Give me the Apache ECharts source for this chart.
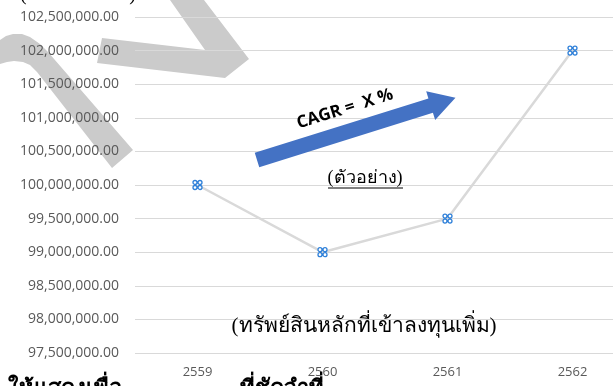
<!DOCTYPE html>
<html>
<head>
<meta charset="utf-8">
<script src="https://cdn.jsdelivr.net/npm/echarts@6/dist/echarts.min.js"></script>
<style>
  html, body { margin: 0; padding: 0; background: #fff; }
  #main { width: 613px; height: 386px; }
</style>
</head>
<body>
<div id="main"></div>
<script>
// Data
const years = ["2559", "2560", "2561", "2562"];
const assetValues = [100000000, 99000000, 99500000, 102000000];
const yMin = 97500000;
const yMax = 102500000;
const yStep = 500000;

// Four little circles, like the Excel marker
const markerPath =
  "path://M0.5,2.5a2,2 0 1,0 4,0a2,2 0 1,0 -4,0Z" +
  "M5.5,2.5a2,2 0 1,0 4,0a2,2 0 1,0 -4,0Z" +
  "M0.5,7.5a2,2 0 1,0 4,0a2,2 0 1,0 -4,0Z" +
  "M5.5,7.5a2,2 0 1,0 4,0a2,2 0 1,0 -4,0Z";

const gray = "#cbcbcb";
const arrowAngle = (17.4 * Math.PI) / 180;

const chart = echarts.init(document.getElementById("main"));

chart.setOption({
  animation: false,
  // the plot runs off the right edge of the picture
  grid: { left: 135, top: 17, width: 500, height: 336, outerBoundsMode: "none" },
  xAxis: {
    type: "category",
    data: years,
    axisLine: { show: false },
    axisTick: { show: false },
    axisLabel: { color: "#595959", fontSize: 13, fontFamily: "Open Sans", margin: 13 },
  },
  yAxis: {
    type: "value",
    min: yMin,
    max: yMax,
    interval: yStep,
    axisLine: { show: false },
    axisTick: { show: false },
    splitLine: { lineStyle: { color: "#d9d9d9", width: 1 } },
    axisLabel: {
      color: "#595959",
      fontSize: 14,
      fontFamily: "Open Sans",
      margin: 16,
      formatter: (v) =>
        v.toLocaleString("en-US", { minimumFractionDigits: 2, maximumFractionDigits: 2 }),
    },
  },
  series: [
    {
      type: "line",
      data: assetValues,
      symbol: markerPath,
      symbolSize: 9,
      z: 5,
      lineStyle: { color: "#d9d9d9", width: 2.5 },
      itemStyle: { color: "#ffffff", borderColor: "#2f80d9", borderWidth: 1.3 },
    },
  ],
  graphic: [
    // watermark strokes
    {
      type: "polygon",
      z: -10,
      shape: {
        points: [[170, 0], [205, 50], [102, 38], [97, 63], [225, 78], [249, 59], [204, 0]],
      },
      style: { fill: gray },
    },
    {
      type: "polygon",
      z: -10,
      shape: {
        points: [
          [0, 40], [6, 36], [13, 34], [22, 34], [30, 37], [40, 44], [48, 52],
          [133, 150], [112, 168], [37, 72], [30, 65], [23, 62], [14, 61], [7, 62], [0, 64],
        ],
      },
      style: { fill: gray },
    },
    // blue CAGR arrow
    {
      type: "polygon",
      z: 20,
      x: 257,
      y: 160,
      rotation: arrowAngle,
      shape: {
        points: [[0, -7.5], [182, -7.5], [182, -15], [208, 0], [182, 15], [182, 7.5], [0, 7.5]],
      },
      style: { fill: "#4472c4" },
    },
    {
      type: "text",
      z: 21,
      x: 345,
      y: 109,
      rotation: arrowAngle,
      style: {
        text: "CAGR =  X %",
        fill: "#000",
        font: "bold 17px 'Open Sans'",
        textAlign: "center",
        textVerticalAlign: "middle",
      },
    },
    {
      type: "text",
      z: 21,
      x: 365,
      y: 178,
      style: {
        text: "(ตัวอย่าง)",
        fill: "#000",
        font: "18px serif",
        textAlign: "center",
        textVerticalAlign: "middle",
      },
    },
    {
      type: "line",
      z: 21,
      shape: { x1: 328, y1: 188, x2: 403, y2: 188 },
      style: { stroke: "#000", lineWidth: 1 },
    },
    {
      type: "text",
      z: 21,
      x: 364,
      y: 326,
      style: {
        text: "(ทรัพย์สินหลักที่เข้าลงทุนเพิ่ม)",
        fill: "#000",
        font: "21px serif",
        textAlign: "center",
        textVerticalAlign: "middle",
      },
    },
    // text cut off at the top and bottom of the picture
    {
      type: "text",
      z: 21,
      x: 20,
      y: -15,
      style: { text: "(หน่วย : บาท)", fill: "#000", font: "20px serif" },
    },
    {
      type: "text",
      z: 21,
      x: 8,
      y: 378,
      style: { text: "ให้แสดงเพื่อ", fill: "#000", font: "bold 22px serif" },
    },
    {
      type: "text",
      z: 21,
      x: 240,
      y: 378,
      style: { text: "ที่ชัดจำที่", fill: "#000", font: "bold 22px serif" },
    },
  ],
});
</script>
</body>
</html>
